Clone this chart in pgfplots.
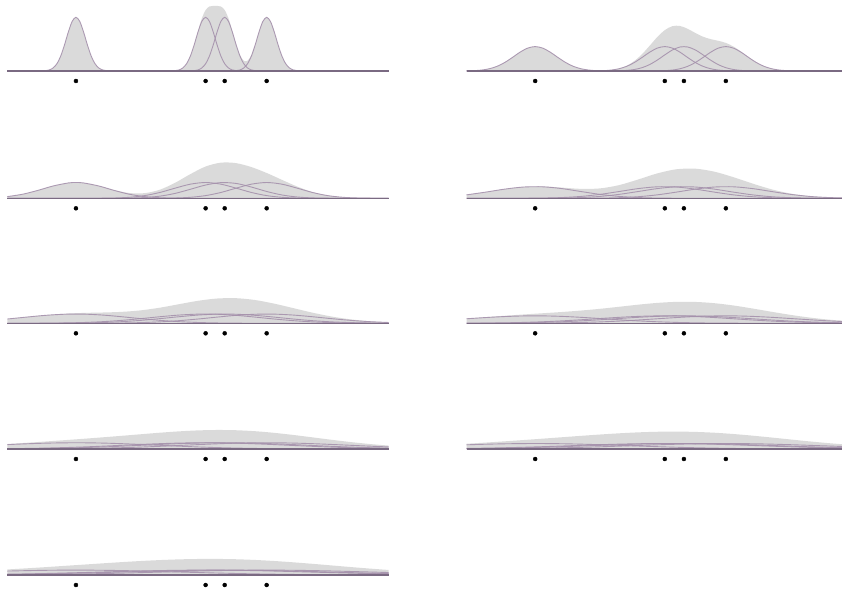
\documentclass[border=0pt]{standalone}
\usepackage{pgfplots}
\usepackage{pgfplotstable}
\pgfplotsset{compat=1.18}

\definecolor{densfill}{RGB}{218,218,218}
\definecolor{kernline}{RGB}{165,145,172}
\definecolor{axisrule}{RGB}{122,106,130}

% Kernel density estimates of the same four observations (1.8, 5.2, 5.7, 6.8)
% for a growing bandwidth. Columns: x, the four scaled Gaussian kernels, their sum.

% bandwidth 0.25
\pgfplotstableread{
x k1 k2 k3 k4 s
0 0 0 0 0 0
0.8 0.0001 0 0 0 0.0001
0.9 0.0006 0 0 0 0.0006
1.0 0.0024 0 0 0 0.0024
1.1 0.0079 0 0 0 0.0079
1.2 0.0224 0 0 0 0.0224
1.3 0.0540 0 0 0 0.0540
1.4 0.1109 0 0 0 0.1109
1.5 0.1942 0 0 0 0.1942
1.6 0.2897 0 0 0 0.2897
1.7 0.3683 0 0 0 0.3683
1.8 0.3990 0 0 0 0.3990
1.9 0.3683 0 0 0 0.3683
2.0 0.2897 0 0 0 0.2897
2.1 0.1942 0 0 0 0.1942
2.2 0.1109 0 0 0 0.1109
2.3 0.0540 0 0 0 0.0540
2.4 0.0224 0 0 0 0.0224
2.5 0.0079 0 0 0 0.0079
2.6 0.0024 0 0 0 0.0024
2.7 0.0006 0 0 0 0.0006
2.8 0.0001 0 0 0 0.0001
4.2 0 0.0001 0 0 0.0001
4.3 0 0.0006 0 0 0.0006
4.4 0 0.0024 0 0 0.0024
4.5 0 0.0079 0 0 0.0079
4.6 0 0.0224 0 0 0.0224
4.7 0 0.0540 0.0001 0 0.0541
4.8 0 0.1109 0.0006 0 0.1115
4.9 0 0.1942 0.0024 0 0.1966
5.0 0 0.2897 0.0079 0 0.2976
5.1 0 0.3683 0.0224 0 0.3907
5.2 0 0.3990 0.0540 0 0.4530
5.3 0 0.3683 0.1109 0 0.4792
5.4 0 0.2897 0.1942 0 0.4839
5.5 0 0.1942 0.2897 0 0.4839
5.6 0 0.1109 0.3683 0 0.4792
5.7 0 0.0540 0.3990 0 0.4530
5.8 0 0.0224 0.3683 0.0001 0.3908
5.9 0 0.0079 0.2897 0.0006 0.2982
6.0 0 0.0024 0.1942 0.0024 0.1990
6.1 0 0.0006 0.1109 0.0079 0.1194
6.2 0 0.0001 0.0540 0.0224 0.0765
6.3 0 0 0.0224 0.0540 0.0764
6.4 0 0 0.0079 0.1109 0.1188
6.5 0 0 0.0024 0.1942 0.1966
6.6 0 0 0.0006 0.2897 0.2903
6.7 0 0 0.0001 0.3683 0.3684
6.8 0 0 0 0.3990 0.3990
6.9 0 0 0 0.3683 0.3683
7.0 0 0 0 0.2897 0.2897
7.1 0 0 0 0.1942 0.1942
7.2 0 0 0 0.1109 0.1109
7.3 0 0 0 0.0540 0.0540
7.4 0 0 0 0.0224 0.0224
7.5 0 0 0 0.0079 0.0079
7.6 0 0 0 0.0024 0.0024
7.7 0 0 0 0.0006 0.0006
7.8 0 0 0 0.0001 0.0001
10 0 0 0 0 0
}\bwA

% bandwidth 0.55
\pgfplotstableread{
x k1 k2 k3 k4 s
0.0 0.0009 0 0 0 0.0009
0.2 0.0026 0 0 0 0.0026
0.4 0.0071 0 0 0 0.0071
0.6 0.0168 0 0 0 0.0168
0.8 0.0347 0 0 0 0.0347
1.0 0.0630 0 0 0 0.0630
1.2 0.1000 0 0 0 0.1000
1.4 0.1392 0 0 0 0.1392
1.6 0.1698 0 0 0 0.1698
1.8 0.1814 0 0 0 0.1814
2.0 0.1698 0 0 0 0.1698
2.2 0.1392 0 0 0 0.1392
2.4 0.1000 0 0 0 0.1000
2.6 0.0630 0 0 0 0.0630
2.8 0.0347 0 0 0 0.0347
3.0 0.0168 0.0001 0 0 0.0169
3.2 0.0071 0.0002 0 0 0.0073
3.4 0.0026 0.0009 0 0 0.0035
3.6 0.0009 0.0026 0.0001 0 0.0036
3.8 0.0002 0.0071 0.0005 0 0.0078
4.0 0.0001 0.0168 0.0015 0 0.0184
4.2 0 0.0347 0.0044 0 0.0391
4.4 0 0.0630 0.0111 0 0.0741
4.6 0 0.1000 0.0245 0.0001 0.1246
4.8 0 0.1392 0.0475 0.0002 0.1869
5.0 0 0.1698 0.0807 0.0009 0.2514
5.2 0 0.1814 0.1200 0.0026 0.3040
5.4 0 0.1698 0.1563 0.0071 0.3332
5.6 0 0.1392 0.1784 0.0168 0.3344
5.8 0 0.1000 0.1784 0.0347 0.3131
6.0 0 0.0630 0.1563 0.0630 0.2823
6.2 0 0.0347 0.1200 0.1000 0.2547
6.4 0 0.0168 0.0807 0.1392 0.2367
6.6 0 0.0071 0.0475 0.1698 0.2244
6.8 0 0.0026 0.0245 0.1814 0.2085
7.0 0 0.0009 0.0111 0.1698 0.1818
7.2 0 0.0002 0.0044 0.1392 0.1438
7.4 0 0.0001 0.0015 0.1000 0.1016
7.6 0 0 0.0005 0.0630 0.0635
7.8 0 0 0.0001 0.0347 0.0348
8.0 0 0 0 0.0168 0.0168
8.2 0 0 0 0.0071 0.0071
8.4 0 0 0 0.0026 0.0026
8.6 0 0 0 0.0009 0.0009
8.8 0 0 0 0.0002 0.0002
9.0 0 0 0 0.0001 0.0001
9.2 0 0 0 0 0
10 0 0 0 0 0
}\bwB

% bandwidth 0.85
\pgfplotstableread{
x k1 k2 k3 k4 s
0.0 0.0125 0 0 0 0.0125
0.4 0.0302 0 0 0 0.0302
0.8 0.0587 0 0 0 0.0587
1.2 0.0915 0 0 0 0.0915
1.6 0.1141 0 0 0 0.1141
1.8 0.1173 0 0 0 0.1173
2.0 0.1141 0 0 0 0.1141
2.4 0.0915 0.0005 0.0001 0 0.0921
2.8 0.0587 0.0022 0.0004 0 0.0613
3.2 0.0302 0.0074 0.0016 0 0.0392
3.6 0.0125 0.0200 0.0056 0.0001 0.0382
4.0 0.0041 0.0433 0.0159 0.0005 0.0638
4.4 0.0011 0.0754 0.0364 0.0022 0.1151
4.8 0.0002 0.1050 0.0670 0.0074 0.1796
5.2 0 0.1173 0.0987 0.0200 0.2360
5.6 0 0.1050 0.1165 0.0433 0.2648
6.0 0 0.0754 0.1103 0.0754 0.2611
6.4 0 0.0433 0.0836 0.1050 0.2319
6.8 0 0.0200 0.0508 0.1173 0.1881
7.2 0 0.0074 0.0247 0.1050 0.1371
7.6 0 0.0022 0.0097 0.0754 0.0873
8.0 0 0.0005 0.0030 0.0433 0.0468
8.4 0 0.0001 0.0008 0.0200 0.0209
8.8 0 0 0.0002 0.0074 0.0076
9.2 0 0 0 0.0022 0.0022
9.6 0 0 0 0.0005 0.0005
10.0 0 0 0 0.0001 0.0001
}\bwC

% bandwidth 1.15
\pgfplotstableread{
x k1 k2 k3 k4 s
0.0 0.0255 0 0 0 0.0255
0.5 0.0458 0 0 0 0.0458
1.0 0.0681 0.0001 0 0 0.0682
1.5 0.0838 0.0005 0.0001 0 0.0844
2.0 0.0854 0.0018 0.0005 0 0.0877
2.5 0.0721 0.0055 0.0018 0.0001 0.0795
3.0 0.0503 0.0139 0.0055 0.0004 0.0701
3.5 0.0291 0.0291 0.0139 0.0014 0.0735
4.0 0.0139 0.0503 0.0291 0.0045 0.0978
4.5 0.0055 0.0721 0.0503 0.0117 0.1396
5.0 0.0018 0.0854 0.0721 0.0255 0.1848
5.5 0.0005 0.0838 0.0854 0.0458 0.2155
6.0 0.0001 0.0681 0.0838 0.0681 0.2201
6.5 0 0.0458 0.0681 0.0838 0.1977
7.0 0 0.0255 0.0458 0.0854 0.1567
7.5 0 0.0117 0.0255 0.0721 0.1093
8.0 0 0.0045 0.0117 0.0503 0.0665
8.5 0 0.0014 0.0045 0.0291 0.0350
9.0 0 0.0004 0.0014 0.0139 0.0157
9.5 0 0.0001 0.0004 0.0055 0.0060
10.0 0 0 0.0001 0.0018 0.0019
}\bwD

% bandwidth 1.45
\pgfplotstableread{
x k1 k2 k3 k4 s
0.0 0.0318 0.0001 0 0 0.0319
0.5 0.0460 0.0004 0.0001 0 0.0465
1.0 0.0591 0.0010 0.0004 0 0.0605
1.5 0.0673 0.0027 0.0010 0.0001 0.0711
2.0 0.0681 0.0060 0.0027 0.0003 0.0771
2.5 0.0612 0.0122 0.0060 0.0008 0.0802
3.0 0.0488 0.0218 0.0122 0.0022 0.0850
3.5 0.0346 0.0346 0.0218 0.0052 0.0962
4.0 0.0218 0.0488 0.0346 0.0107 0.1159
4.5 0.0122 0.0612 0.0488 0.0196 0.1418
5.0 0.0060 0.0681 0.0612 0.0318 0.1671
5.5 0.0027 0.0673 0.0681 0.0460 0.1841
6.0 0.0010 0.0591 0.0673 0.0591 0.1865
6.5 0.0004 0.0460 0.0591 0.0673 0.1728
7.0 0.0001 0.0318 0.0460 0.0681 0.1460
7.5 0 0.0196 0.0318 0.0612 0.1126
8.0 0 0.0107 0.0196 0.0488 0.0791
8.5 0 0.0052 0.0107 0.0346 0.0505
9.0 0 0.0022 0.0052 0.0218 0.0292
9.5 0 0.0008 0.0022 0.0122 0.0152
10.0 0 0.0003 0.0008 0.0060 0.0071
}\bwE

% bandwidth 1.8
\pgfplotstableread{
x k1 k2 k3 k4 s
0.0 0.0336 0.0009 0.0004 0 0.0349
0.5 0.0427 0.0018 0.0009 0.0001 0.0455
1.0 0.0502 0.0036 0.0018 0.0003 0.0559
1.5 0.0547 0.0067 0.0036 0.0007 0.0657
2.0 0.0551 0.0114 0.0067 0.0016 0.0748
2.5 0.0514 0.0180 0.0114 0.0032 0.0840
3.0 0.0444 0.0263 0.0180 0.0060 0.0947
3.5 0.0355 0.0355 0.0263 0.0103 0.1076
4.0 0.0263 0.0444 0.0355 0.0165 0.1227
4.5 0.0180 0.0514 0.0444 0.0245 0.1383
5.0 0.0114 0.0551 0.0514 0.0336 0.1515
5.5 0.0067 0.0547 0.0551 0.0427 0.1592
6.0 0.0036 0.0502 0.0547 0.0502 0.1587
6.5 0.0018 0.0427 0.0502 0.0547 0.1494
7.0 0.0009 0.0336 0.0427 0.0551 0.1323
7.5 0.0004 0.0245 0.0336 0.0514 0.1099
8.0 0.0001 0.0165 0.0245 0.0444 0.0855
8.5 0.0001 0.0103 0.0165 0.0355 0.0624
9.0 0 0.0060 0.0103 0.0263 0.0426
9.5 0 0.0032 0.0060 0.0180 0.0272
10.0 0 0.0016 0.0032 0.0114 0.0162
}\bwF

% bandwidth 2.15
\pgfplotstableread{
x k1 k2 k3 k4 s
0.0 0.0327 0.0025 0.0014 0.0003 0.0369
0.5 0.0386 0.0043 0.0025 0.0006 0.0460
1.0 0.0433 0.0069 0.0043 0.0012 0.0557
1.5 0.0459 0.0106 0.0069 0.0022 0.0656
2.0 0.0462 0.0153 0.0106 0.0038 0.0759
2.5 0.0440 0.0211 0.0153 0.0063 0.0867
3.0 0.0397 0.0275 0.0211 0.0097 0.0980
3.5 0.0339 0.0339 0.0275 0.0143 0.1096
4.0 0.0275 0.0397 0.0339 0.0199 0.1210
4.5 0.0211 0.0440 0.0397 0.0262 0.1310
5.0 0.0153 0.0462 0.0440 0.0327 0.1382
5.5 0.0106 0.0459 0.0462 0.0386 0.1413
6.0 0.0069 0.0433 0.0459 0.0433 0.1394
6.5 0.0043 0.0386 0.0433 0.0459 0.1321
7.0 0.0025 0.0327 0.0386 0.0462 0.1200
7.5 0.0014 0.0262 0.0327 0.0440 0.1043
8.0 0.0007 0.0199 0.0262 0.0397 0.0865
8.5 0.0004 0.0143 0.0199 0.0339 0.0685
9.0 0.0002 0.0097 0.0143 0.0275 0.0517
9.5 0.0001 0.0063 0.0097 0.0211 0.0372
10.0 0 0.0038 0.0063 0.0153 0.0254
}\bwG

% bandwidth 2.45
\pgfplotstableread{
x k1 k2 k3 k4 s
0.0 0.0311 0.0043 0.0027 0.0009 0.0390
0.5 0.0354 0.0065 0.0043 0.0015 0.0477
1.0 0.0386 0.0094 0.0065 0.0025 0.0570
1.5 0.0404 0.0130 0.0094 0.0039 0.0667
2.0 0.0406 0.0173 0.0130 0.0060 0.0769
2.5 0.0391 0.0222 0.0173 0.0087 0.0873
3.0 0.0361 0.0272 0.0222 0.0122 0.0977
3.5 0.0320 0.0320 0.0272 0.0164 0.1076
4.0 0.0272 0.0361 0.0320 0.0212 0.1165
4.5 0.0222 0.0391 0.0361 0.0262 0.1236
5.0 0.0173 0.0406 0.0391 0.0311 0.1281
5.5 0.0130 0.0404 0.0406 0.0354 0.1294
6.0 0.0094 0.0386 0.0404 0.0386 0.1270
6.5 0.0065 0.0354 0.0386 0.0404 0.1209
7.0 0.0043 0.0311 0.0354 0.0406 0.1114
7.5 0.0027 0.0262 0.0311 0.0391 0.0991
8.0 0.0017 0.0212 0.0262 0.0361 0.0852
8.5 0.0010 0.0164 0.0212 0.0320 0.0706
9.0 0.0005 0.0122 0.0164 0.0272 0.0563
9.5 0.0003 0.0087 0.0122 0.0222 0.0434
10.0 0.0002 0.0060 0.0087 0.0173 0.0322
}\bwH

% bandwidth 2.75
\pgfplotstableread{
x k1 k2 k3 k4 s
0.0 0.0293 0.0061 0.0042 0.0017 0.0413
0.5 0.0324 0.0084 0.0061 0.0026 0.0495
1.0 0.0348 0.0113 0.0084 0.0039 0.0584
1.5 0.0361 0.0147 0.0113 0.0057 0.0678
2.0 0.0362 0.0184 0.0147 0.0079 0.0772
2.5 0.0351 0.0224 0.0184 0.0107 0.0866
3.0 0.0330 0.0263 0.0224 0.0140 0.0957
3.5 0.0300 0.0300 0.0263 0.0177 0.1040
4.0 0.0263 0.0330 0.0300 0.0216 0.1109
4.5 0.0224 0.0351 0.0330 0.0256 0.1161
5.0 0.0184 0.0362 0.0351 0.0293 0.1190
5.5 0.0147 0.0361 0.0362 0.0324 0.1194
6.0 0.0113 0.0348 0.0361 0.0348 0.1170
6.5 0.0084 0.0324 0.0348 0.0361 0.1117
7.0 0.0061 0.0293 0.0324 0.0362 0.1040
7.5 0.0042 0.0256 0.0293 0.0351 0.0942
8.0 0.0029 0.0216 0.0256 0.0330 0.0831
8.5 0.0019 0.0177 0.0216 0.0300 0.0712
9.0 0.0012 0.0140 0.0177 0.0263 0.0592
9.5 0.0007 0.0107 0.0140 0.0224 0.0478
10.0 0.0004 0.0079 0.0107 0.0184 0.0374
}\bwI

\pgfplotsset{
  kdeaxis/.style={hide axis, x=38.14pt, y=134.6pt,
    xmin=0, xmax=10, ymin=-0.1, ymax=0.5,
    enlargelimits=false, clip=false, anchor=south west},
  sumcurve/.style={smooth, draw=none, fill=densfill},
  kernel/.style={smooth, kernline, line width=0.9pt, opacity=0.9},
}

% one panel: #1, #2 = lower left corner of the axis box, #3 = table
\newcommand{\kdepanel}[3]{%
  \begin{axis}[kdeaxis, at={(#1pt,#2pt)}]
    \addplot[sumcurve] table[x=x, y=s] {#3} \closedcycle;
    \addplot[kernel] table[x=x, y=k1] {#3};
    \addplot[kernel] table[x=x, y=k2] {#3};
    \addplot[kernel] table[x=x, y=k3] {#3};
    \addplot[kernel] table[x=x, y=k4] {#3};
    \addplot[axisrule, line width=1.2pt] coordinates {(0,0) (10,0)};
    \addplot[only marks, mark=*, mark size=2pt, black]
      coordinates {(1.8,-0.0743) (5.2,-0.0743) (5.7,-0.0743) (6.8,-0.0743)};
  \end{axis}%
}

\begin{document}
\begin{tikzpicture}
\path[use as bounding box] (0,0) rectangle (842pt,592pt);
\clip (0,0) rectangle (842pt,592pt);
\kdepanel{7.3}{507.54}{\bwA}
\kdepanel{466.5}{507.54}{\bwB}
\kdepanel{7.3}{380.24}{\bwC}
\kdepanel{466.5}{380.24}{\bwD}
\kdepanel{7.3}{255.24}{\bwE}
\kdepanel{466.5}{255.24}{\bwF}
\kdepanel{7.3}{129.54}{\bwG}
\kdepanel{466.5}{129.54}{\bwH}
\kdepanel{7.3}{3.54}{\bwI}
\end{tikzpicture}
\end{document}
